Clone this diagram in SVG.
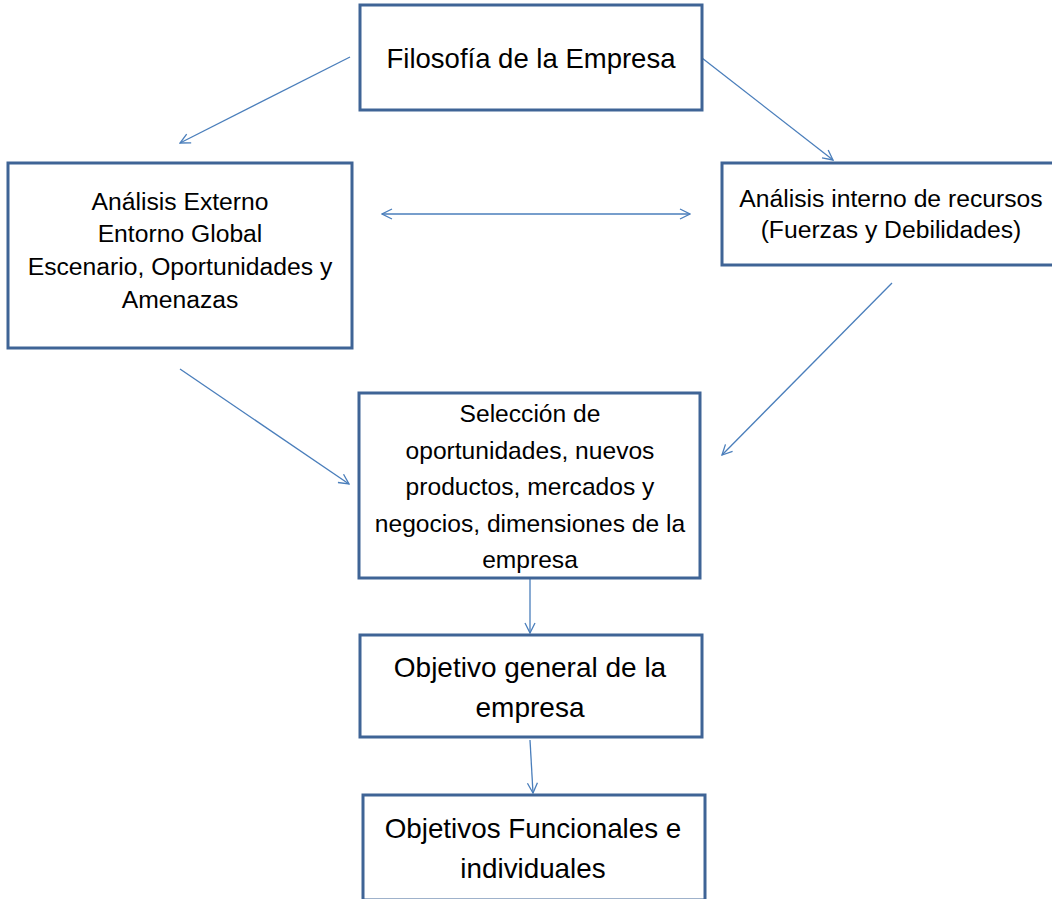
<svg xmlns="http://www.w3.org/2000/svg" width="1052" height="899" viewBox="0 0 1052 899">
<style>
.box{fill:#ffffff;stroke:#3F6496;stroke-width:3}
.t{font-family:"Liberation Sans",Arial,sans-serif;fill:#000;text-anchor:middle}
.c{fill:none;stroke:#4A7EBB;stroke-width:1.3}
</style>
<defs>
<marker id="ah" viewBox="0 0 12 12" refX="11" refY="6" markerWidth="12" markerHeight="12" markerUnits="userSpaceOnUse" orient="auto-start-reverse">
<path d="M1,1 L11,6 L1,11" fill="none" stroke="#4A7EBB" stroke-width="1.3"/>
</marker>
</defs>
<rect width="1052" height="899" fill="#ffffff"/>
<g id="connectors">
<line class="c" x1="350" y1="57" x2="180" y2="143" marker-end="url(#ah)"/>
<line class="c" x1="702" y1="58" x2="833" y2="160" marker-end="url(#ah)"/>
<line class="c" x1="382" y1="214" x2="690" y2="214" marker-start="url(#ah)" marker-end="url(#ah)"/>
<line class="c" x1="180" y1="369" x2="349" y2="484" marker-end="url(#ah)"/>
<line class="c" x1="892" y1="283" x2="722" y2="455" marker-end="url(#ah)"/>
<line class="c" x1="530" y1="578" x2="530" y2="633" marker-end="url(#ah)"/>
<line class="c" x1="530" y1="740" x2="533" y2="793" marker-end="url(#ah)"/>
</g>
<g id="filosofia">
<rect class="box" x="360" y="5" width="342" height="105"/>
<text class="t" x="531" y="68" font-size="27.5">Filosofía de la Empresa</text>
</g>
<g id="analisis-externo">
<rect class="box" x="8" y="163" width="344" height="185"/>
<text class="t" font-size="24.7"><tspan x="180" y="210">Análisis Externo</tspan><tspan x="180" y="242">Entorno Global</tspan><tspan x="180" y="275">Escenario, Oportunidades y</tspan><tspan x="180" y="308">Amenazas</tspan></text>
</g>
<g id="analisis-interno">
<rect class="box" x="722" y="163" width="340" height="102"/>
<text class="t" font-size="24.7"><tspan x="891" y="207">Análisis interno de recursos</tspan><tspan x="891" y="238">(Fuerzas y Debilidades)</tspan></text>
</g>
<g id="seleccion">
<rect class="box" x="359" y="393" width="341" height="185"/>
<text class="t" font-size="24.6"><tspan x="530" y="422">Selección de</tspan><tspan x="530" y="458.5">oportunidades, nuevos</tspan><tspan x="530" y="495">productos, mercados y</tspan><tspan x="530" y="531.5">negocios, dimensiones de la</tspan><tspan x="530" y="568">empresa</tspan></text>
</g>
<g id="objetivo-general">
<rect class="box" x="360" y="635" width="342" height="102"/>
<text class="t" font-size="28"><tspan x="530" y="677">Objetivo general de la</tspan><tspan x="530" y="717">empresa</tspan></text>
</g>
<g id="objetivos-funcionales">
<rect class="box" x="363" y="795" width="342" height="105"/>
<text class="t" font-size="27.8"><tspan x="533" y="838">Objetivos Funcionales e</tspan><tspan x="533" y="878">individuales</tspan></text>
</g>
</svg>
